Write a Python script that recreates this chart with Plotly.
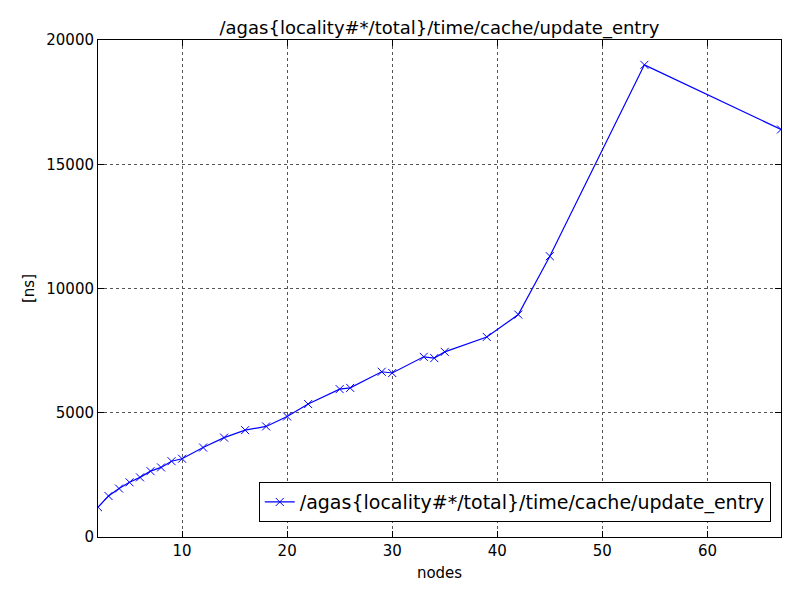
import plotly.graph_objects as go

nodes = [2,3,4,5,6,7,8,9,10,12,14,16,18,20,22,25,26,29,30,33,34,35,39,42,45,54,67]
values = [1200,1650,1950,2200,2400,2650,2800,3050,3150,3600,4000,4300,4450,4850,5350,5950,6000,6650,6600,7250,7200,7450,8050,8950,11300,19000,16400]
name = "/agas{locality#*/total}/time/cache/update_entry"

fig = go.Figure(go.Scatter(x=nodes, y=values, mode="lines+markers", name=name,
    line=dict(color="blue", width=1.2),
    marker=dict(symbol="x-thin", size=8, line=dict(color="blue", width=1), color="blue")))
ax = dict(showline=True, linecolor="black", linewidth=1, mirror="ticks", ticks="inside",
          ticklen=6, tickcolor="black", showgrid=True, gridcolor="#555", griddash="dot",
          gridwidth=0.6, zeroline=False, tickfont=dict(size=15, color="black"), automargin=False)
fig.update_xaxes(**ax, range=[2, 67], dtick=10, tick0=0,
                 title=dict(text="nodes", font=dict(size=15, color="black"), standoff=8))
fig.update_yaxes(**ax, range=[0, 20000], dtick=5000, tickformat="d",
                 title=dict(text="[ns]", font=dict(size=15, color="black"), standoff=8))
fig.update_layout(width=800, height=600, plot_bgcolor="white", paper_bgcolor="white",
    font=dict(family="DejaVu Sans"),
    margin=dict(l=90, r=27, t=32, b=71),
    title=dict(text="/agas{locality#*/total}/time/cache/update_entry", x=0.5, xanchor="center",
               xref="paper", y=0.968, yanchor="middle", font=dict(size=18, color="black")),
    showlegend=True,
    legend=dict(x=0.985, y=0.03, xanchor="right", yanchor="bottom", bordercolor="black",
                borderwidth=1, bgcolor="white", font=dict(size=19, color="black")))
fig.write_html("out.html")
